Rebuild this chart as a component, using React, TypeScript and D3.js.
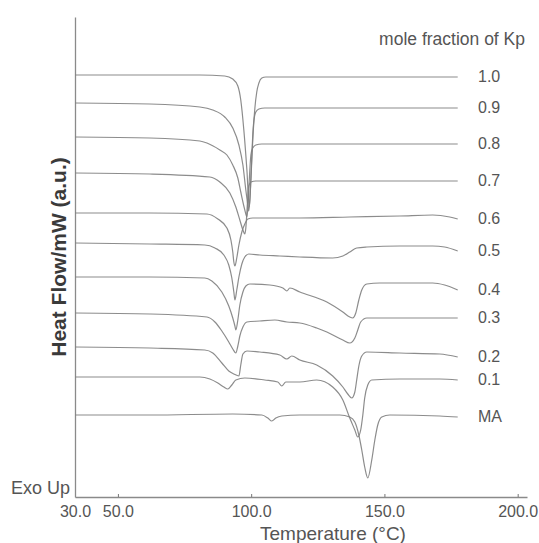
import React, { useRef, useEffect } from 'react';
import * as d3 from 'd3';

type Pt = [number, number];

// DSC traces: [temperature °C, heat flow a.u.] (stacked)
const kp10: Pt[] = [[34,42.2],[80.75,42.2],[90.1,42.1],[93.1,41.8],[95,41.1],[96.1,39.7],[97.25,36.7],[98.4,32.7],[99.3,29.0],[99.9,31.7],[100.6,35.7],[101.4,38.9],[102.1,40.5],[102.9,41.4],[104,41.9],[105.5,42.0],[140,42.0],[177.5,42.0]];
const kp09: Pt[] = [[34,39.4],[62,39.3],[80.75,39.0],[85.6,38.7],[90.1,38.0],[93.1,36.9],[95.4,35.2],[96.9,33.2],[98,30.7],[98.75,29.2],[99.1,28.6],[99.5,29.7],[99.9,31.9],[100.25,34.2],[100.6,36.2],[101,37.6],[101.75,38.5],[102.9,38.8],[105.1,38.9],[177.5,38.9]];
const kp08: Pt[] = [[34,36.0],[62,35.9],[80.75,35.6],[83.4,35.4],[88.25,34.7],[90.9,34.2],[93.1,33.2],[95,31.9],[96.1,30.5],[97.25,29.1],[98,28.3],[98.4,28.0],[98.75,28.9],[99.1,30.7],[99.5,32.7],[99.9,34.2],[100.6,34.9],[101.75,35.2],[104,35.3],[177.5,35.3]];
const kp07: Pt[] = [[34,32.4],[62,32.3],[84.5,32.0],[88.25,31.5],[92,30.4],[94.25,29.0],[95.75,27.7],[96.9,26.7],[97.6,26.3],[98,26.9],[98.4,28.5],[98.75,30.1],[99.1,31.1],[99.9,31.5],[101.75,31.6],[177.5,31.6]];
const kp06: Pt[] = [[34,28.4],[62,28.4],[83.4,28.3],[87.5,27.8],[90.9,26.9],[92.4,25.7],[93.1,24.5],[93.5,23.5],[93.9,23.1],[94.6,23.9],[95.4,25.2],[96.5,26.5],[97.6,27.3],[98.75,27.8],[100.6,27.9],[118.25,27.9],[137,28.0],[155.75,28.1],[168.1,28.2],[174.5,28.0],[177.5,27.8]];
const kp05: Pt[] = [[34,25.4],[62,25.3],[82.6,25.2],[86.4,24.9],[89.75,24.2],[91.6,23.2],[92.75,21.9],[93.5,20.5],[93.9,19.7],[94.6,20.7],[95.4,22.0],[96.5,23.3],[97.6,24.0],[99.1,24.3],[103.25,24.2],[110.75,24.1],[118.25,24.0],[130.6,23.9],[134.4,24.1],[137,24.5],[139.6,24.9],[143.4,25.0],[155.75,25.1],[168.1,25.1],[172.6,25.0],[177.5,24.6]];
const kp04: Pt[] = [[34,22.0],[62,22.0],[82.6,21.9],[85.25,21.6],[89,20.5],[91.6,19.1],[93.1,17.9],[93.9,17.1],[94.25,16.7],[95,17.7],[95.75,19.2],[96.9,20.5],[98,21.1],[99.5,21.3],[107,21.2],[111.9,20.9],[113.4,20.6],[114.5,20.9],[118.25,20.5],[128.4,19.5],[134.4,18.5],[137,18.0],[138.1,17.9],[139.25,18.4],[140.4,19.7],[141.5,20.7],[143.4,21.3],[148.25,21.4],[168.1,21.4],[172.6,21.2],[177.5,20.7]];
const kp03: Pt[] = [[34,18.4],[62,18.3],[83.4,18.0],[86.4,17.5],[89,16.6],[91.6,15.5],[93.1,14.8],[94.25,14.4],[95,15.1],[95.75,16.1],[96.9,17.0],[98.4,17.5],[103.25,17.6],[108.9,17.7],[113.4,17.5],[118.25,17.4],[124.6,16.9],[128.4,16.5],[134.4,15.7],[137,15.4],[138.9,15.9],[140,16.7],[141.1,17.5],[143.4,17.9],[155.75,17.9],[177.5,17.9]];
const kp02: Pt[] = [[34,15.0],[62,14.9],[82.6,14.7],[85.6,14.4],[89,13.4],[91.6,12.6],[93.5,12.3],[95.4,12.1],[96.1,13.2],[96.9,14.3],[98.4,14.6],[103.25,14.5],[110.75,14.2],[113.4,13.8],[115.25,14.1],[118.25,13.7],[124.6,13.2],[130.6,12.1],[134.4,11.0],[136.25,10.3],[137.75,9.9],[138.9,10.5],[139.6,11.7],[140.4,13.1],[141.5,14.1],[143.4,14.5],[155.75,14.4],[170.75,14.3],[177.5,14.0]];
const kp01: Pt[] = [[34,12.0],[62,12.0],[80.75,12.0],[84.5,11.8],[87.5,11.4],[89.75,11.0],[91.25,10.8],[92.75,11.2],[94.25,11.7],[97.6,11.9],[105.1,11.7],[110,11.5],[111.5,11.1],[113,11.5],[118.25,11.5],[124.6,11.7],[130.6,11.0],[134.4,9.7],[137,7.9],[138.9,6.7],[140,6.0],[141.1,6.7],[141.9,8.2],[142.6,9.9],[143.75,11.2],[145.25,11.7],[155.75,11.8],[170.75,11.8],[177.5,11.7]];
const ma: Pt[] = [[34,8.2],[62,8.2],[93.1,8.3],[104,8.2],[106.25,7.9],[107.75,7.6],[109.25,7.9],[111.5,8.1],[118.25,8.2],[133.25,8.2],[137,8.0],[138.9,7.5],[140.4,6.2],[141.5,4.7],[142.6,3.0],[143.75,1.9],[145.25,3.7],[146.4,5.7],[147.5,7.2],[149,8.0],[152,8.2],[170.75,8.1],[177.5,8.0]];

const seriesLabels = ["1.0", "0.9", "0.8", "0.7", "0.6", "0.5", "0.4", "0.3", "0.2", "0.1", "MA"];
const seriesData = [kp10, kp09, kp08, kp07, kp06, kp05, kp04, kp03, kp02, kp01, ma];

const xTickValues = [33.9, 50, 100, 150, 200];
const xTickLabels = ["30.0", "50.0", "100.0", "150.0", "200.0"];

const FONT = "'Liberation Sans', Arial, sans-serif";

const App: React.FC = () => {
  const svgRef = useRef<SVGSVGElement>(null);

  useEffect(() => {
    if (!svgRef.current) return;
    const svg = d3.select(svgRef.current);
    svg.selectAll("*").remove();

    const x = d3.scaleLinear().domain([33.9, 203.5]).range([75, 527]);
    const y = d3.scaleLinear().domain([0, 48]).range([497, 17]);

    // x axis with small inward ticks
    const xAxis = svg.append("g")
      .attr("transform", `translate(0,${y(0)})`)
      .call(
        d3.axisBottom(x)
          .tickValues(xTickValues)
          .tickSizeInner(-3)
          .tickSizeOuter(0)
          .tickPadding(9)
          .tickFormat((_d, i) => xTickLabels[i])
      );
    xAxis.select(".domain").attr("stroke", "#8a8a8a").attr("stroke-width", 1.3);
    xAxis.selectAll(".tick line").attr("stroke", "#777");
    xAxis.selectAll(".tick text")
      .style("font-family", FONT)
      .style("font-size", "16px")
      .attr("fill", "#555");

    // y axis: plain line
    const yAxis = svg.append("g")
      .attr("transform", `translate(${x(33.9)},0)`)
      .call(d3.axisLeft(y).tickValues([]).tickSizeOuter(0));
    yAxis.select(".domain").attr("stroke", "#8a8a8a").attr("stroke-width", 1.3);

    const line = d3.line<Pt>()
      .x(d => x(d[0]))
      .y(d => y(d[1]))
      .curve(d3.curveMonotoneX);

    svg.append("g")
      .selectAll("path")
      .data(seriesData)
      .enter().append("path")
      .attr("d", d => line(d))
      .attr("fill", "none")
      .attr("stroke", "#808080")
      .attr("stroke-width", 1.2)
      .attr("stroke-opacity", 0.9);

    svg.append("g")
      .selectAll("text")
      .data(seriesData)
      .enter().append("text")
      .attr("x", 478)
      .attr("y", d => y(d[d.length - 1][1]) - 1)
      .attr("dy", "0.35em")
      .text((_d, i) => seriesLabels[i])
      .style("font-family", FONT)
      .style("font-size", "16px")
      .attr("fill", "#555");

    svg.append("text")
      .attr("x", 525)
      .attr("y", 45)
      .attr("text-anchor", "end")
      .text("mole fraction of Kp")
      .style("font-family", FONT)
      .style("font-size", "17.5px")
      .attr("fill", "#555");

    svg.append("text")
      .attr("transform", "translate(66,257) rotate(-90)")
      .attr("text-anchor", "middle")
      .text("Heat Flow/mW (a.u.)")
      .style("font-family", FONT)
      .style("font-size", "21px")
      .style("font-weight", "bold")
      .attr("fill", "#3a3a3a");

    svg.append("text")
      .attr("x", 70)
      .attr("y", 494)
      .attr("text-anchor", "end")
      .text("Exo Up")
      .style("font-family", FONT)
      .style("font-size", "18px")
      .attr("fill", "#555");

    svg.append("text")
      .attr("x", 333)
      .attr("y", 540)
      .attr("text-anchor", "middle")
      .text("Temperature (°C)")
      .style("font-family", FONT)
      .style("font-size", "19px")
      .attr("fill", "#555");
  }, []);

  return (
    <svg
      ref={svgRef}
      width={539}
      height={543}
      style={{ position: "absolute", left: 0, top: 0, background: "#fff" }}
    />
  );
};

export default App;
